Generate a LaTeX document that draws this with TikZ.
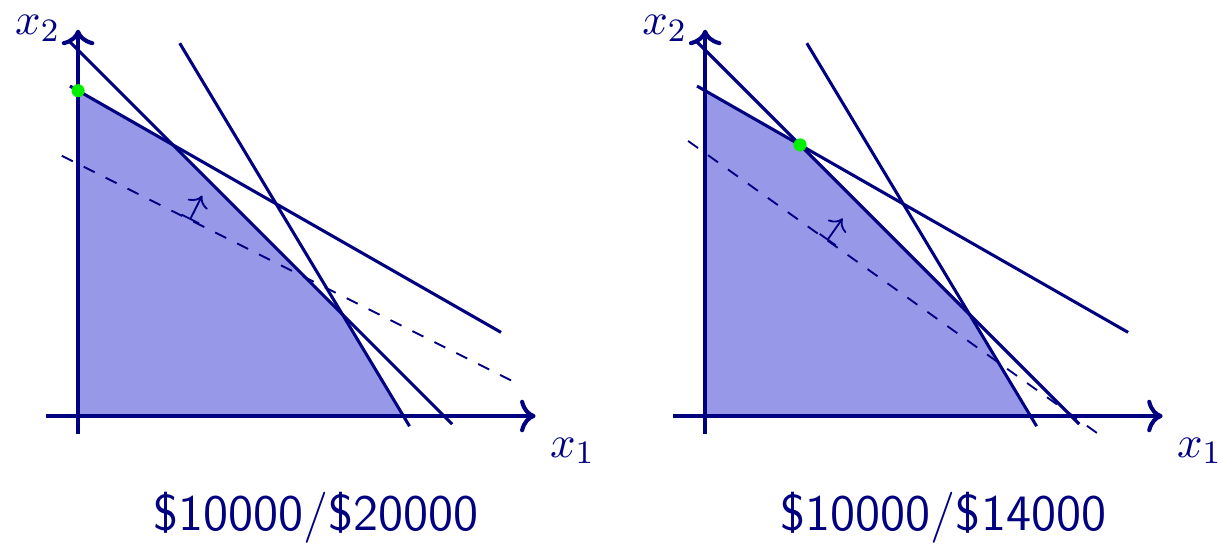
\documentclass[tikz,border=0pt]{standalone}
\usepackage{tikz}
\usetikzlibrary{arrows.meta, positioning, calc}
\definecolor{lpNavy}{HTML}{000080}
\definecolor{lpFill}{HTML}{9898E8}
\definecolor{lpGreen}{HTML}{00F000}

\begin{document}
\begin{tikzpicture}[
    x=0.35cm, y=0.35cm,
    axis/.style={draw=lpNavy, line width=1pt, ->},
    constraint/.style={draw=lpNavy, line width=0.75pt},
    objective/.style={draw=lpNavy, line width=0.45pt, dashed},
    gradient/.style={draw=lpNavy, line width=0.45pt, |->},
    optimum/.style={circle, fill=lpGreen, inner sep=0pt, minimum size=3.2pt},
    axislabel/.style={text=lpNavy, font=\fontsize{11}{13}\selectfont},
    caption/.style={text=lpNavy, font=\fontsize{12.5}{15}\selectfont\sffamily},
]
    \useasboundingbox (-1.92,-3.15) rectangle (28.03,10.23);

    % left: $10000/$20000
    \begin{scope}
        \fill[lpFill] (0,0) -- (0,8) -- (7/3,20/3) -- (6.5,2.5) -- (8,0) -- cycle;
        \draw[constraint] (-0.2,8.114) -- (10.4,2.057);
        \draw[constraint] (-0.2,9.2) -- (9.2,-0.2);
        \draw[constraint] (2.5,9.167) -- (8.15,-0.25);
        \draw[objective] (-0.4,6.4) -- (10.9,0.75);
        \draw[gradient] (2.75,4.825) -- (3.05,5.42);
        \draw[axis] (-0.8,0) -- (11.25,0) coordinate (x1endL);
        \draw[axis] (0,-0.45) -- (0,9.5) coordinate (x2endL);
        \node[axislabel, right=0cm of x1endL, yshift=-0.3cm] (x1labelL) {$x_1$};
        \node[axislabel, left=0.03cm of x2endL, yshift=0.01cm] (x2labelL) {$x_2$};
        \node[optimum] (bestL) at (0,8) {};
        \node[caption] (captionL) at (5.86,-2.5) {\$10000/\$20000};
    \end{scope}

    % right: $10000/$14000
    \begin{scope}[shift={(15.42,0)}]
        \fill[lpFill] (0,0) -- (0,8) -- (7/3,20/3) -- (6.5,2.5) -- (8,0) -- cycle;
        \draw[constraint] (-0.2,8.114) -- (10.4,2.057);
        \draw[constraint] (-0.2,9.2) -- (9.2,-0.2);
        \draw[constraint] (2.5,9.167) -- (8.15,-0.25);
        \draw[objective] (-0.42,6.764) -- (9.7,-0.464);
        \draw[gradient] (3.0,4.32) -- (3.38,4.86);
        \draw[axis] (-0.8,0) -- (11.25,0) coordinate (x1endR);
        \draw[axis] (0,-0.45) -- (0,9.5) coordinate (x2endR);
        \node[axislabel, right=0cm of x1endR, yshift=-0.3cm] (x1labelR) {$x_1$};
        \node[axislabel, left=0.03cm of x2endR, yshift=0.01cm] (x2labelR) {$x_2$};
        \node[optimum] (bestR) at (7/3,20/3) {};
        \node[caption] (captionR) at (5.86,-2.5) {\$10000/\$14000};
    \end{scope}
\end{tikzpicture}
\end{document}
